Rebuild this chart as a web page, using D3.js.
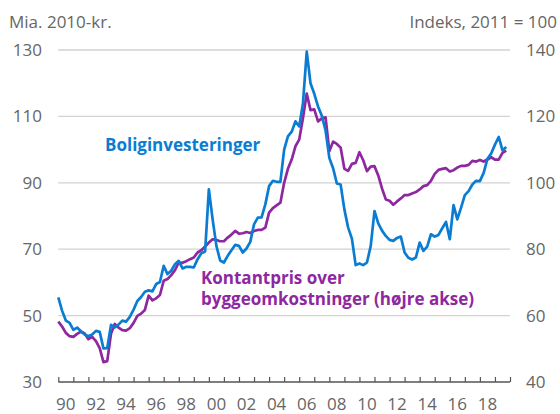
<!DOCTYPE html>
<html>
<head>
<meta charset="utf-8">
<script src="https://cdn.jsdelivr.net/npm/d3@7"></script>
<style>
  body { margin: 0; background: #fff; }
  svg text { font-family: "Open Sans", sans-serif; }
</style>
</head>
<body>
<div id="chart"></div>
<script>
var svgWidth = 560;
var svgHeight = 414;

// quarterly, 1990 Q1 onwards
var startYear = 1990;

// Boliginvesteringer, mia. 2010-kr. (left axis)
var investment = [
  55.5, 51.5, 48.5, 47.8, 45.7, 46.4, 45.3, 44.3, 43.8, 44.3,
  45.4, 45.1, 40.1, 40.2, 47.2, 46.4, 47.3, 48.5, 48.2, 49.6,
  51.8, 54.4, 55.6, 57.2, 57.6, 57.3, 59.5, 60.1, 65.0, 62.5,
  63.5, 65.5, 66.5, 64.2, 64.7, 64.7, 64.5, 67.0, 68.8, 69.3,
  88.0, 79.0, 71.0, 66.6, 66.0, 68.0, 69.7, 71.3, 71.0, 69.0,
  70.2, 72.2, 77.5, 79.5, 79.6, 83.5, 89.0, 90.6, 90.3, 90.3,
  100.0, 104.0, 105.4, 108.5, 107.0, 114.0, 129.5, 120.0, 116.8, 113.0,
  110.2, 105.8, 97.5, 94.4, 89.8, 89.5, 82.0, 76.5, 73.2, 65.2,
  65.7, 65.2, 66.0, 71.0, 81.5, 77.8, 75.6, 74.0, 72.8, 72.5,
  73.4, 73.8, 69.0, 67.4, 66.9, 67.5, 72.0, 69.5, 70.8, 74.5,
  73.8, 74.3, 76.3, 78.2, 73.0, 83.3, 79.0, 82.5, 86.3, 87.5,
  89.5, 90.6, 90.5, 93.0, 97.2, 98.8, 101.5, 103.8, 99.8, 100.8
];

// Kontantpris over byggeomkostninger, indeks 2011 = 100 (right axis)
var priceRatio = [
  58.2, 56.7, 54.8, 53.8, 53.6, 54.5, 55.2, 54.6, 52.9, 53.6,
  52.3, 50.2, 46.0, 46.3, 54.5, 57.5, 56.4, 55.6, 55.5, 56.2,
  57.8, 59.9, 60.6, 61.7, 66.0, 64.6, 65.2, 66.2, 70.5, 71.0,
  72.2, 73.7, 76.0, 75.9, 76.4, 77.0, 77.5, 79.0, 79.7, 80.8,
  82.0, 83.0, 82.8, 82.4, 82.4, 83.5, 84.4, 85.5, 84.7, 84.8,
  85.2, 84.9, 85.5, 85.8, 85.8, 86.5, 91.0, 92.4, 93.2, 94.0,
  100.0, 104.2, 107.0, 111.0, 113.0, 119.5, 126.9, 121.9, 122.1, 118.5,
  119.4, 119.7, 109.5, 112.4, 111.7, 110.6, 104.2, 103.6, 105.7, 106.0,
  109.2, 106.8, 103.5, 104.9, 105.0, 102.2, 98.3, 95.0, 94.6, 93.4,
  94.4, 95.3, 96.3, 96.3, 96.8, 97.2, 98.0, 99.0, 99.3, 100.6,
  102.7, 103.9, 104.2, 104.4, 103.4, 103.8, 104.6, 105.1, 105.1, 105.4,
  106.6, 106.4, 106.9, 106.4, 107.0, 107.7, 107.0, 107.0, 109.0, 109.7
];

var leftTicks = [30, 50, 70, 90, 110, 130];
var rightTicks = [40, 60, 80, 100, 120, 140];
var yearTicks = d3.range(1990, 2021);
var yearLabels = d3.range(1990, 2020, 2);

var blue = "#0a7dd2";
var purple = "#8e27a0";
var grey = "#666666";
var fontSize = "17px";

var svg = d3.select("#chart")
  .append("svg")
  .attr("width", svgWidth)
  .attr("height", svgHeight);

var x = d3.scaleLinear().domain([1990, 2020]).range([58.3, 510]);
var yLeft = d3.scaleLinear().domain([30, 130]).range([382, 50]);
var yRight = d3.scaleLinear().domain([40, 140]).range([382, 50]);

// gridlines
svg.append("g")
  .selectAll("line")
  .data(leftTicks.slice(1))
  .enter()
  .append("line")
  .attr("x1", x(1990))
  .attr("x2", x(2020))
  .attr("y1", d => yLeft(d))
  .attr("y2", d => yLeft(d))
  .attr("stroke", "#d2d2d2")
  .attr("stroke-width", 1.3);

// left axis labels
var leftAxis = svg.append("g")
  .attr("transform", "translate(42,0)")
  .call(d3.axisLeft(yLeft).tickValues(leftTicks).tickSize(0).tickPadding(0));
leftAxis.select(".domain").remove();
leftAxis.selectAll("text")
  .style("font-family", "'Open Sans', sans-serif")
  .style("font-size", fontSize)
  .attr("fill", grey);

// right axis labels
var rightAxis = svg.append("g")
  .attr("transform", "translate(526,0)")
  .call(d3.axisRight(yRight).tickValues(rightTicks).tickSize(0).tickPadding(0));
rightAxis.select(".domain").remove();
rightAxis.selectAll("text")
  .style("font-family", "'Open Sans', sans-serif")
  .style("font-size", fontSize)
  .attr("fill", grey);

// bottom axis with small upward ticks
var bottomAxis = svg.append("g")
  .attr("transform", "translate(0,382)")
  .call(d3.axisBottom(x).tickValues(yearTicks).tickSize(-5).tickFormat(""));
bottomAxis.select(".domain")
  .attr("stroke", "#555")
  .attr("stroke-width", 1.3)
  .attr("d", `M${x(1990)},0H${x(2020)}`);
bottomAxis.selectAll(".tick line")
  .attr("stroke", "#555")
  .attr("stroke-width", 1.2);

svg.append("g")
  .selectAll("text")
  .data(yearLabels)
  .enter()
  .append("text")
  .attr("x", d => x(d + 0.5))
  .attr("y", 410)
  .attr("text-anchor", "middle")
  .attr("fill", grey)
  .style("font-size", fontSize)
  .text(d => String(d).slice(2));

// units
svg.append("text")
  .attr("x", 9)
  .attr("y", 28)
  .attr("fill", grey)
  .style("font-size", fontSize)
  .text("Mia. 2010-kr.");

svg.append("text")
  .attr("x", 557)
  .attr("y", 28)
  .attr("text-anchor", "end")
  .attr("fill", grey)
  .style("font-size", fontSize)
  .text("Indeks, 2011 = 100");

// lines
var priceLine = d3.line()
  .x((d, i) => x(startYear + i / 4))
  .y(d => yRight(d));

var investLine = d3.line()
  .x((d, i) => x(startYear + i / 4))
  .y(d => yLeft(d));

svg.append("path")
  .datum(priceRatio)
  .attr("fill", "none")
  .attr("stroke", purple)
  .attr("stroke-width", 2.7)
  .attr("stroke-linejoin", "round")
  .attr("d", priceLine);

svg.append("path")
  .datum(investment)
  .attr("fill", "none")
  .attr("stroke", blue)
  .attr("stroke-width", 2.7)
  .attr("stroke-linejoin", "round")
  .attr("d", investLine);

// series labels
svg.append("text")
  .attr("x", 105)
  .attr("y", 151)
  .attr("fill", blue)
  .style("font-size", fontSize)
  .style("font-weight", "bold")
  .text("Boliginvesteringer");

var purpleLabel = svg.append("text")
  .attr("x", 201)
  .attr("y", 284)
  .attr("fill", purple)
  .style("font-size", fontSize)
  .style("font-weight", "bold");
purpleLabel.append("tspan").attr("x", 201).text("Kontantpris over");
purpleLabel.append("tspan").attr("x", 201).attr("dy", 21).text("byggeomkostninger (højre akse)");
</script>
</body>
</html>
